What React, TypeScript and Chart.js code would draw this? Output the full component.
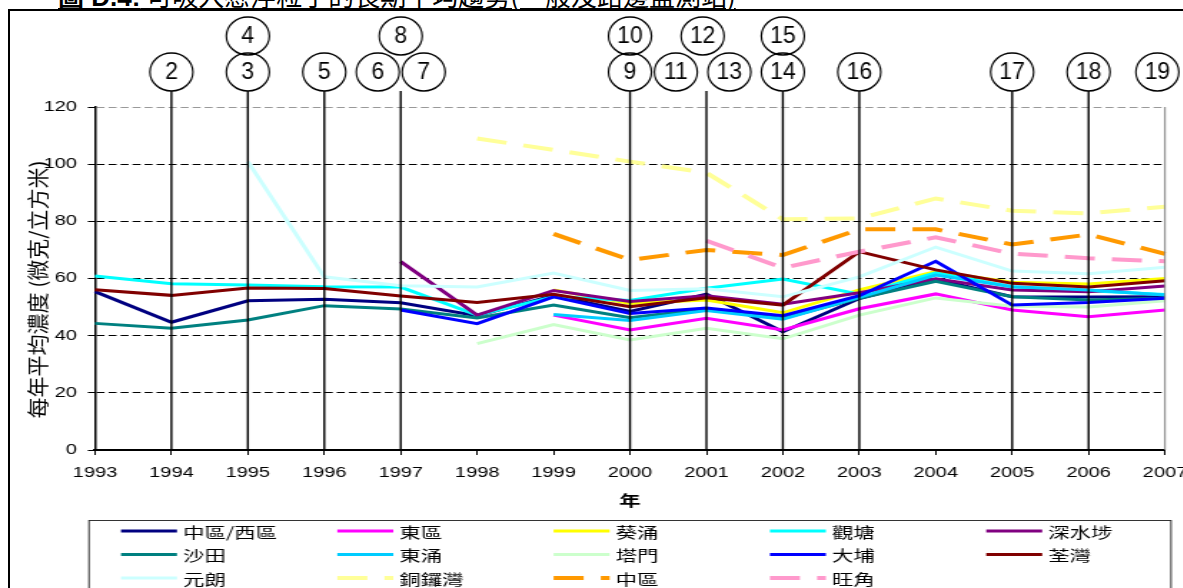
import React, { useEffect, useRef } from 'react';
import { Chart, registerables } from 'chart.js';

Chart.register(...registerables);

// ---------------- data ----------------
const years = ['1993', '1994', '1995', '1996', '1997', '1998', '1999', '2000', '2001', '2002', '2003', '2004', '2005', '2006', '2007'];

const seriesLabels = ['中區/西區', '東區', '葵涌', '觀塘', '深水埗', '沙田', '東涌', '塔門', '大埔', '荃灣', '元朗', '銅鑼灣', '中區', '旺角'];
const seriesColors = ['#000080', '#FF00FF', '#FFFF00', '#00FFFF', '#800080', '#008080', '#00CCFF', '#CCFFCC', '#0000FF', '#800000', '#CCFFFF', '#FFFF99', '#FF9900', '#FF99CC'];
const seriesDashed = [false, false, false, false, false, false, false, false, false, false, false, true, true, true];

const centralWestern = [55.4, 44.7, 52.2, 52.7, 51.5, 47.0, 54.0, 48.5, 54.5, 41.4, 53.0, 59.7, 53.6, 53.5, 53.6];
const eastern = [null, null, null, null, null, null, 47.2, 42.0, 46.1, 42.0, 49.4, 54.6, 49.0, 46.6, 49.0];
const kwaiChung = [null, null, null, null, null, null, 56.0, 51.3, 52.5, 48.0, 56.0, 62.4, 58.7, 58.1, 60.0];
const kwunTong = [60.9, 58.2, 57.7, 57.1, 57.0, 47.2, 53.6, 52.3, 56.6, 59.8, 54.5, 62.0, 57.1, 55.7, 54.4];
const shamShuiPo = [null, null, null, null, 65.9, 47.2, 55.8, 52.0, 54.0, 51.0, 55.0, 59.9, 56.0, 55.4, 57.4];
const shaTin = [44.3, 42.6, 45.5, 50.5, 49.3, 46.2, 50.7, 46.3, 49.4, 46.0, 53.1, 59.0, 53.6, 52.5, 53.1];
const tungChung = [null, null, null, null, null, null, 47.4, 45.3, 48.8, 45.8, 53.4, 61.2, 57.1, 56.0, 54.2];
const tapMun = [null, null, null, null, null, 37.2, 43.9, 38.5, 42.6, 38.9, 47.2, 53.2, 50.3, 50.0, 52.2];
const taiPo = [null, null, null, null, 49.0, 44.2, 53.6, 47.8, 49.7, 47.0, 54.0, 66.0, 50.7, 51.6, 53.1];
const tsuenWan = [56.1, 54.1, 56.7, 56.5, 53.9, 51.6, 54.5, 50.1, 53.3, 50.7, 69.4, 63.0, 58.3, 57.0, 59.2];
const yuenLong = [null, null, 100.9, 60.6, 57.5, 57.0, 61.9, 55.8, 56.4, 53.6, 60.6, 71.0, 62.6, 61.7, 63.9];
const causewayBay = [null, null, null, null, null, 109.0, 105.0, 100.9, 97.0, 80.7, 81.0, 88.0, 83.7, 82.8, 85.1];
const central = [null, null, null, null, null, null, 75.6, 66.5, 70.0, 68.2, 77.2, 77.2, 71.9, 75.4, 68.6];
const mongKok = [null, null, null, null, null, null, null, null, 73.2, 63.7, 69.4, 74.4, 68.7, 67.1, 66.0];

const seriesValues = [centralWestern, eastern, kwaiChung, kwunTong, shamShuiPo, shaTin, tungChung, tapMun, taiPo, tsuenWan, yuenLong, causewayBay, central, mongKok];

const yMin = 0;
const yMax = 120;
const yStep = 20;

const yTitle = '每年平均濃度 (微克/立方米)';
const xTitle = '年';
const titleBold = '圖 D.4:';
const titleRest = ' 可吸入懸浮粒子的長期平均趨勢(一般及路邊監測站)';

// circled annotation numbers and the vertical reference lines
const markerLabels = ['2', '3', '4', '5', '6', '7', '8', '9', '10', '11', '12', '13', '14', '15', '16', '17', '18', '19'];
const markerYears = [1994, 1995, 1995, 1996, 1996.7, 1997.3, 1997, 2000, 2000, 2000.6, 2000.95, 2001.3, 2002, 2002, 2003, 2005, 2006, 2006.9];
const markerRows = [0, 0, 1, 0, 0, 0, 1, 0, 1, 0, 1, 0, 0, 1, 0, 0, 0, 0];
const refLineYears = [1994, 1995, 1996, 1997, 2000, 2001, 2002, 2003, 2005, 2006];

// ---------------- layout ----------------
const S = 1.43; // horizontal stretch of the original picture
const CW = 853;
const CH = 588;
const sx = (v: number) => v / S;

const overlayPlugin = {
  id: 'overlay',
  afterDatasetsDraw(chart: any) {
    const ctx = chart.ctx;
    const xs = chart.scales.x;
    const area = chart.chartArea;
    ctx.save();
    ctx.setLineDash([]);
    ctx.strokeStyle = '#808080';
    ctx.lineWidth = 1;
    ctx.beginPath();
    ctx.moveTo(area.right, area.top);
    ctx.lineTo(area.right, area.bottom);
    ctx.stroke();
    ctx.strokeStyle = '#000';
    ctx.lineWidth = 1.4;
    refLineYears.forEach((yr) => {
      const px = xs.getPixelForValue(yr - 1993);
      ctx.beginPath();
      ctx.moveTo(px, 91);
      ctx.lineTo(px, area.bottom);
      ctx.stroke();
    });
    ctx.restore();
  },
  afterDraw(chart: any) {
    const ctx = chart.ctx;
    const xs = chart.scales.x;
    const area = chart.chartArea;
    const rowY = [72, 36];
    ctx.save();
    ctx.setLineDash([]);
    // circled numbers (not stretched)
    markerLabels.forEach((lab, i) => {
      const cx = xs.getPixelForValue(markerYears[i] - 1993);
      const cy = rowY[markerRows[i]];
      ctx.save();
      ctx.translate(cx, cy);
      ctx.scale(1 / S, 1);
      ctx.beginPath();
      ctx.ellipse(0, 0, 21.5, 19, 0, 0, Math.PI * 2);
      ctx.lineWidth = 1.6;
      ctx.strokeStyle = '#000';
      ctx.stroke();
      ctx.fillStyle = '#000';
      ctx.font = '23px "Liberation Sans", Arial, sans-serif';
      ctx.textAlign = 'center';
      ctx.textBaseline = 'middle';
      ctx.fillText(lab, 0, 1);
      ctx.restore();
    });

    // y axis title (not stretched)
    ctx.save();
    ctx.translate(sx(38), (area.top + area.bottom) / 2 + 11);
    ctx.scale(1 / S, 1);
    ctx.rotate(-Math.PI / 2);
    ctx.fillStyle = '#000';
    ctx.font = '21px "Noto Sans CJK TC", sans-serif';
    ctx.textAlign = 'center';
    ctx.textBaseline = 'middle';
    ctx.fillText(yTitle, 0, 0);
    ctx.restore();

    // x axis title
    ctx.fillStyle = '#000';
    ctx.font = 'bold 15px "Noto Sans CJK TC", sans-serif';
    ctx.textAlign = 'center';
    ctx.textBaseline = 'middle';
    ctx.fillText(xTitle, (area.left + area.right) / 2, 500);

    // legend box
    ctx.strokeStyle = '#333';
    ctx.lineWidth = 1;
    ctx.strokeRect(sx(89), 520.5, sx(1171) - sx(89), 100);

    // legend items
    chart.data.datasets.forEach((ds: any, i: number) => {
      const col = i % 5;
      const row = Math.floor(i / 5);
      const x0 = sx(121 + col * 216.3);
      const x1 = sx(177 + col * 216.3);
      const y = 531 + row * 23.5;
      ctx.save();
      ctx.strokeStyle = ds.borderColor;
      ctx.lineWidth = ds.borderWidth;
      ctx.setLineDash(ds.borderDash || []);
      ctx.beginPath();
      ctx.moveTo(x0, y);
      ctx.lineTo(x1, y);
      ctx.stroke();
      ctx.restore();
      ctx.fillStyle = '#000';
      ctx.font = '15px "Noto Sans CJK TC", sans-serif';
      ctx.textAlign = 'left';
      ctx.textBaseline = 'middle';
      ctx.fillText(ds.label, sx(183 + col * 216.3), y + 1);
    });
    ctx.restore();
  },
};

export default function App() {
  const ref = useRef<HTMLCanvasElement>(null);

  useEffect(() => {
    if (!ref.current) return;
    Chart.defaults.color = '#000';
    Chart.defaults.font.family = '"Liberation Sans", Arial, sans-serif';
    const chart = new Chart(ref.current, {
      type: 'line',
      data: {
        labels: years,
        datasets: seriesLabels.map((label, i) => ({
          label,
          data: seriesValues[i],
          borderColor: seriesColors[i],
          backgroundColor: seriesColors[i],
          borderWidth: seriesDashed[i] ? 4 : 3,
          borderDash: seriesDashed[i] ? [21, 12] : [],
          pointRadius: 0,
          pointHoverRadius: 0,
          tension: 0,
          fill: false,
          spanGaps: false,
          order: seriesLabels.length - i,
        })),
      },
      options: {
        responsive: false,
        maintainAspectRatio: false,
        devicePixelRatio: 1,
        animation: false,
        events: [],
        layout: { padding: { left: 0, right: CW - sx(1165), top: 107, bottom: 588 - 450 - 30 } },
        plugins: {
          legend: { display: false },
          tooltip: { enabled: false },
          title: { display: false },
        },
        scales: {
          x: {
            type: 'category',
            offset: false,
            grid: { drawOnChartArea: false, drawTicks: true, tickLength: 5, color: '#000', lineWidth: 1 },
            border: { color: '#000', width: 2 },
            ticks: { padding: 10, autoSkip: false, maxRotation: 0, color: '#000', font: { size: 14, family: '"Liberation Sans", Arial, sans-serif' } },
            afterFit: (s: any) => { s.height = 30; },
          },
          y: {
            min: yMin,
            max: yMax,
            ticks: { stepSize: yStep, padding: 7.6, color: '#000', font: { size: 14, family: '"Liberation Sans", Arial, sans-serif' } },
            grid: {
              color: (c: any) => (c.tick && c.tick.value === yMax ? '#999' : '#000'),
              tickColor: '#000',
              lineWidth: 1,
              tickLength: 5,
              drawTicks: true,
            },
            border: { color: '#000', width: 1.5, dash: [5.6, 2.8] },
            afterFit: (s: any) => { s.width = sx(95); },
          },
        },
      },
      plugins: [overlayPlugin],
    } as any);
    return () => chart.destroy();
  }, []);

  return (
    <div style={{ position: 'absolute', left: 0, top: 0, width: 1183, height: 588, overflow: 'hidden', background: '#fff' }}>
      <div
        style={{
          position: 'absolute', left: 58, top: -18, fontSize: 26, lineHeight: '26px', whiteSpace: 'nowrap',
          textDecoration: 'underline', fontFamily: '"Noto Sans CJK TC", sans-serif', color: '#000',
        }}
      >
        <b style={{ fontFamily: '"Liberation Sans", "Noto Sans CJK TC", sans-serif' }}>{titleBold}</b>
        {titleRest}
      </div>
      <div style={{ position: 'absolute', left: 8, top: 9, width: 1400, height: 800, border: '2px solid #000', boxSizing: 'border-box' }} />
      <div style={{ position: 'absolute', left: 0, top: 0, width: CW, height: CH, transform: `scaleX(${S})`, transformOrigin: '0 0' }}>
        <canvas ref={ref} width={CW} height={CH} style={{ width: CW, height: CH, display: 'block' }} />
      </div>
    </div>
  );
}
